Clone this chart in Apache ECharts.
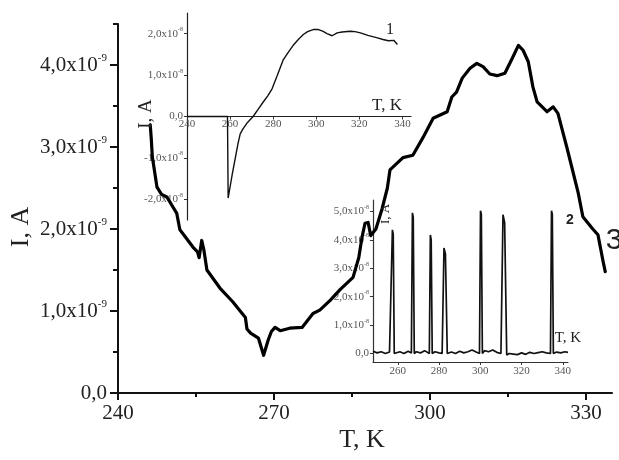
<!DOCTYPE html>
<html>
<head>
<meta charset="utf-8">
<script src="https://cdn.jsdelivr.net/npm/echarts@6/dist/echarts.min.js"></script>
<style>
html,body{margin:0;padding:0;background:#fff;}
#chart{width:619px;height:460px;}
</style>
</head>
<body>
<div id="chart"></div>
<script>
// Main curve 3: T (K) and I (x1e-9 A)
var mainT = [246.2,246.4,246.6,247.5,248.4,249.4,251.3,251.9,253,254.4,255.3,255.6,256.1,256.5,257.1,259.6,262.1,264.5,264.8,265.5,267,268,268.9,269.5,270.2,271.2,273,275.4,277.5,278.8,280.8,282.7,285.2,286.3,286.9,287.5,288.1,288.6,289.6,290.8,291.8,292.3,294.8,296.7,298.7,300.6,303.3,304.2,305.1,306.2,307.7,309,310.2,311.5,312.9,314.4,315.8,317,317.9,318.9,319.8,320.6,322.5,323.7,324.6,326.3,328.5,329.4,331.3,332.3,333.3,333.7];
var mainI = [3.27,3.1,2.88,2.51,2.42,2.39,2.19,1.99,1.9,1.78,1.72,1.65,1.86,1.75,1.5,1.28,1.11,0.92,0.78,0.73,0.67,0.46,0.65,0.75,0.80,0.76,0.79,0.80,0.97,1.01,1.13,1.26,1.41,1.65,1.89,2.07,2.08,1.92,2.0,2.25,2.5,2.72,2.87,2.90,3.12,3.35,3.43,3.61,3.67,3.84,3.96,4.02,3.98,3.89,3.87,3.90,4.08,4.24,4.18,4.04,3.73,3.55,3.43,3.49,3.41,3.00,2.44,2.15,2.0,1.93,1.6,1.48];
var mainXLabels = [240,270,300,330];
var mainXMinor = [255,285,315];
var mainYLabels = [0,1,2,3,4];
var mainYMinor = [0.5,1.5,2.5,3.5,4.5];

// Inset 1: T (K) and I (x1e-8 A)
var in1T = [240,250,258.8,259.1,261,263.7,264.7,266,268,270.7,273,275.4,277.5,279.5,281.9,284.6,287,289.3,292,294,296,298.6,301,303,305,307.4,309.7,312,315.8,318,320.5,324,328.4,331,333.5,336,337.7];
var in1I = [0,0,0,-1.97,-1.4,-0.65,-0.42,-0.3,-0.15,0,0.17,0.35,0.5,0.67,0.99,1.36,1.55,1.72,1.88,1.98,2.05,2.1,2.1,2.06,2.0,1.95,2.02,2.04,2.06,2.05,2.02,1.96,1.9,1.86,1.83,1.84,1.74];
var in1XLabels = [240,260,280,300,320,340];
var in1YLabels = [-2,-1,0,1,2];

// Inset 2: T (K) and I (x1e-8 A)
var in2T = [248,250,252,254,256,256.9,257.4,257.8,258.3,259,261,263,265,266.6,267.1,267.5,268.0,269,271,273,275.3,275.8,276.2,276.7,278,280,281.5,282.4,283.1,284.0,286,288,290,292,294,296,298,299.6,300.1,300.5,301.0,302,304,306,308,310.0,311.0,311.8,312.8,314,316,318,320,322,324,326,328,330,332,334.0,334.5,334.9,335.4,337,339,341,342.5];
var in2I = [0.08,0.02,0.06,0.0,0.05,0.02,4.35,4.2,0.0,0.04,0.06,0.0,0.08,0.02,4.95,4.8,0.0,0.06,0.02,0.1,0.0,4.17,4.0,0.0,0.06,0.02,0.0,3.71,3.5,0.0,0.05,0.0,0.08,0.02,0.06,0.12,0.05,0.0,5.02,4.9,0.0,0.1,0.06,0.12,0.04,0.0,4.88,4.6,-0.05,0.0,-0.02,-0.04,0.02,-0.03,0.04,0.0,0.03,0.06,0.02,0.0,5.02,4.9,0.0,0.05,0.02,0.06,0.04];
var in2XLabels = [260,280,300,320,340];
var in2YLabels = [0,1,2,3,4,5];

function zip(a,b){return a.map(function(v,i){return [v,b[i]];});}
function fmtExp(exp){
  return function(v){
    if (v === 0) return '{b|0,0}';
    var s = (v<0?'-':'') + Math.abs(v).toFixed(1).replace('.',',');
    return '{b|' + s + 'x10}{s|' + exp + '}';
  };
}
var serif = '"Liberation Serif", "DejaVu Serif", serif';
var mainRich = {
  b:{fontSize:21,fontFamily:serif,color:'#222',lineHeight:24},
  s:{fontSize:11,fontFamily:serif,color:'#222',verticalAlign:'top',lineHeight:24}
};
var insRich = {
  b:{fontSize:11,fontFamily:serif,color:'#555',lineHeight:14},
  s:{fontSize:6,fontFamily:serif,color:'#555',verticalAlign:'top',lineHeight:14}
};

var chart = echarts.init(document.getElementById('chart'));
var option = {
  animation:false,
  backgroundColor:'#fff',
  grid:[
    {left:118,top:24,width:494,height:369,outerBoundsMode:'none'},
    {left:187,top:13,width:224,height:207,outerBoundsMode:'none'},
    {left:373,top:200,width:195,height:162,outerBoundsMode:'none'}
  ],
  xAxis:[
    {gridIndex:0,type:'value',min:240,max:335,position:'bottom',
     axisLine:{onZero:false,lineStyle:{color:'#111',width:2}},
     axisTick:{customValues:mainXLabels,length:7,lineStyle:{color:'#111',width:2}},
     axisLabel:{customValues:mainXLabels,fontSize:21,fontFamily:serif,color:'#222',margin:10},
     splitLine:{show:false}},
    {gridIndex:0,type:'value',min:240,max:335,position:'bottom',
     axisLine:{show:false,onZero:false},
     axisTick:{customValues:mainXMinor,length:4,lineStyle:{color:'#111',width:2}},
     axisLabel:{show:false},splitLine:{show:false}},
    {gridIndex:1,type:'value',min:240,max:344,position:'bottom',offset:-103.5,
     axisLine:{onZero:false,lineStyle:{color:'#222',width:1.2}},
     axisTick:{customValues:in1XLabels,length:3,lineStyle:{color:'#333'}},
     axisLabel:{customValues:in1XLabels,fontSize:11,fontFamily:serif,color:'#555',margin:2},
     splitLine:{show:false}},
    {gridIndex:2,type:'value',min:248,max:342.5,position:'bottom',
     axisLine:{onZero:false,lineStyle:{color:'#333',width:1.2}},
     axisTick:{customValues:in2XLabels,length:3,lineStyle:{color:'#333'}},
     axisLabel:{customValues:in2XLabels,fontSize:11,fontFamily:serif,color:'#555',margin:4},
     splitLine:{show:false}}
  ],
  yAxis:[
    {gridIndex:0,type:'value',min:0,max:4.5,position:'left',
     axisLine:{show:true,onZero:false,lineStyle:{color:'#111',width:2}},
     axisTick:{show:true,customValues:mainYLabels,length:8,lineStyle:{color:'#111',width:2}},
     axisLabel:{customValues:mainYLabels,formatter:fmtExp('-9'),rich:mainRich,margin:11},
     splitLine:{show:false}},
    {gridIndex:0,type:'value',min:0,max:4.5,position:'left',
     axisLine:{show:false,onZero:false},
     axisTick:{show:true,customValues:mainYMinor,length:5,lineStyle:{color:'#111',width:2}},
     axisLabel:{show:false},splitLine:{show:false}},
    {gridIndex:1,type:'value',min:-2.5,max:2.5,position:'left',
     axisLine:{show:true,onZero:false,lineStyle:{color:'#222',width:1.2}},
     axisTick:{show:true,customValues:in1YLabels,length:3,lineStyle:{color:'#333'}},
     axisLabel:{customValues:in1YLabels,formatter:fmtExp('-8'),rich:insRich,margin:4},
     splitLine:{show:false}},
    {gridIndex:2,type:'value',min:-0.3,max:5.4,position:'left',
     axisLine:{show:true,onZero:false,lineStyle:{color:'#333',width:1.2}},
     axisTick:{show:true,customValues:in2YLabels,length:3,lineStyle:{color:'#333'}},
     axisLabel:{customValues:in2YLabels,formatter:fmtExp('-8'),rich:insRich,margin:4},
     splitLine:{show:false}}
  ],
  series:[
    {type:'line',xAxisIndex:2,yAxisIndex:2,data:zip(in1T,in1I),showSymbol:false,
     lineStyle:{color:'#111',width:1.4},z:3},
    {type:'line',xAxisIndex:3,yAxisIndex:3,data:zip(in2T,in2I),showSymbol:false,
     lineStyle:{color:'#111',width:1.7},z:3},
    {type:'line',xAxisIndex:0,yAxisIndex:0,data:zip(mainT,mainI),showSymbol:false,
     lineStyle:{color:'#000',width:3.2,join:'round',cap:'round'},z:4}
  ]
};
function txt(x,y,text,font,rot){
  return {type:'text',x:x,y:y,rotation:rot||0,
    style:{text:text,font:font,fill:'#222',align:'center',verticalAlign:'middle'},z:10};
}
option.graphic = [
  txt(21,227,'I, A','26px '+serif,Math.PI/2),
  txt(362,440,'T, K','26px '+serif),
  txt(146,114,'I, A','19px '+serif,Math.PI/2),
  txt(387,106,'T, K','17px '+serif),
  txt(390,30,'1','16px '+serif),
  txt(386,214,'I, A','13px '+serif,Math.PI/2),
  txt(568,338,'T, K','15px '+serif),
  txt(570,220,'2','bold 14px "Liberation Sans", Arial, sans-serif'),
  txt(614,241,'3','30px "Liberation Sans", Arial, sans-serif')
];
chart.setOption(option);
</script>
</body>
</html>
